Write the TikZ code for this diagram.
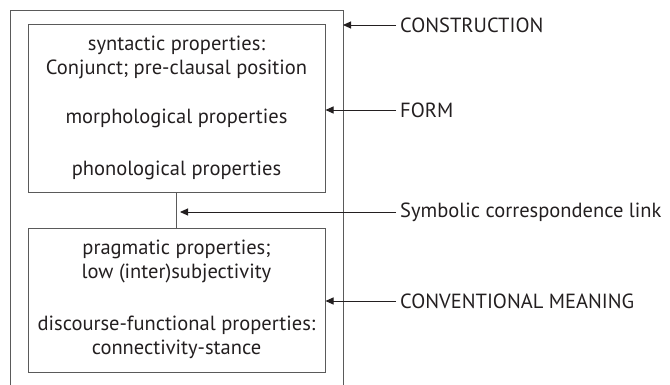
\documentclass[tikz,border=0pt]{standalone}
\usepackage{fontspec}
\setmainfont{PT Sans}
\usetikzlibrary{arrows.meta}
\definecolor{ink}{HTML}{231F20}
\definecolor{rule}{HTML}{5A5A5A}
\begin{document}
\begin{tikzpicture}[x=1pt,y=-1pt,
  frame/.style={draw=rule,line width=1pt},
  boxnode/.style={draw=rule,line width=1pt,rectangle,inner sep=0pt,minimum width=297pt},
  txt/.style={text=ink,font=\fontsize{20.5}{24}\selectfont,align=center,inner sep=0pt},
  lbl/.style={text=ink,font=\fontsize{20.5}{24}\selectfont,anchor=west,inner xsep=4pt,inner ysep=0pt},
  pointer/.style={draw=ink,line width=0.9pt,-{Triangle[length=8pt,width=7pt]}}]
\useasboundingbox (0,0) rectangle (670,385);
% outer construction frame (open at the bottom)
\coordinate (obl) at (10,385);
\coordinate (otl) at (10,11);
\coordinate (otr) at (343,11);
\coordinate (obr) at (343,385);
\draw[frame] (obl) -- (otl) -- (otr) -- (obr);
% form box
\node[boxnode,minimum height=168pt] (form) at (176.5,109) {};
% meaning box
\node[boxnode,minimum height=143pt] (meaning) at (176.5,300.5) {};
\draw[frame] (form.south) -- (meaning.north);
% texts in boxes
\node[txt] (t1) at (176.5,57) {syntactic properties:\\Conjunct; pre-clausal position};
\node[txt] (t2) at (176.5,118) {morphological properties};
\node[txt] (t3) at (176.5,170) {phonological properties};
\node[txt] (t4) at (176.5,261) {pragmatic properties;\\low (inter)subjectivity};
\node[txt] (t5) at (176.5,337) {discourse-functional properties:\\connectivity-stance};
% labels
\node[lbl] (lc) at (396,25) {CONSTRUCTION};
\node[lbl] (lf) at (396,110) {FORM};
\node[lbl] (ls) at (396,212) {Symbolic correspondence link};
\node[lbl] (lm) at (396,301) {CONVENTIONAL MEANING};
% pointers
\coordinate (pc) at (343,25);
\coordinate (ps) at (180,212);
\draw[pointer] (lc.west) -- (pc);
\draw[pointer] (lf.west) -- (form.east |- lf.west);
\draw[pointer] (ls.west) -- (ps);
\draw[pointer] (lm.west) -- (meaning.east |- lm.west);
\end{tikzpicture}
\end{document}
